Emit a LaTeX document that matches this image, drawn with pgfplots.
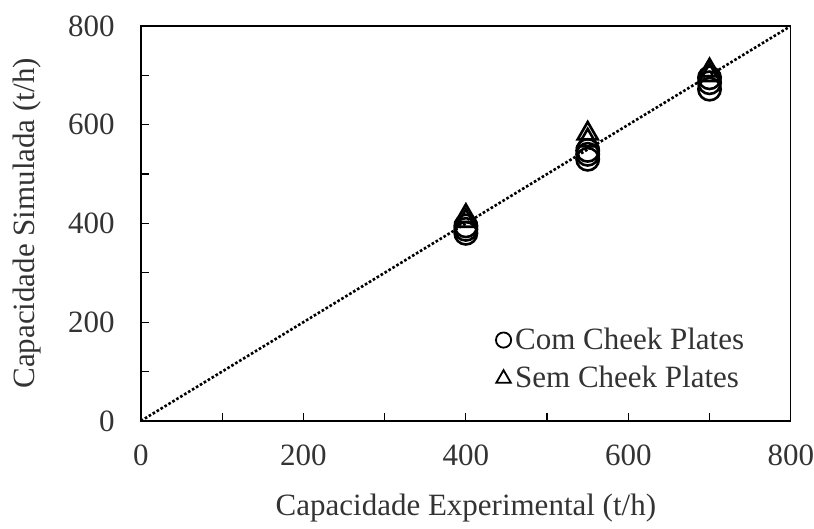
\documentclass[border=0pt]{standalone}
\usepackage{pgfplots}
\pgfplotsset{compat=1.18}
\usepackage{fontspec}
\setmainfont{Liberation Serif}
\begin{document}
\begin{tikzpicture}
\begin{axis}[
  scale only axis,
  width=325pt, height=197.5pt,
  xmin=0, xmax=800, ymin=0, ymax=800,
  xtick={0,200,...,800}, ytick={0,200,...,800},
  minor xtick={100,300,500,700}, minor ytick={100,300,500,700},
  tick align=inside,
  xtick pos=bottom, ytick pos=left,
  major tick length=4pt, minor tick length=4pt,
  tick style={black, line width=0.6pt},
  axis line style={line width=0.7pt},
  /pgf/number format/assume math mode=true,
  ticklabel style={font=\fontsize{15.5}{18}\selectfont, text=black!80, inner sep=0pt},
  yticklabel style={anchor=east, xshift=-13pt},
  xticklabel style={anchor=north, yshift=-12pt},
  xlabel={Capacidade Experimental (t/h)},
  ylabel={Capacidade Simulada (t/h)},
  every axis x label/.style={at={(axis description cs:0.5,0)}, yshift=-43.5pt, anchor=center,
    font=\fontsize{15.5}{18}\selectfont, text=black!80},
  every axis y label/.style={at={(axis description cs:0,0.5)}, xshift=-57pt, rotate=90, anchor=center,
    font=\fontsize{15.5}{18}\selectfont, text=black!80},
  legend style={draw=none, fill=none, at={(0.935,0.065)}, anchor=south east,
    font=\fontsize{15.5}{18}\selectfont, text=black!80, row sep=3pt,
    inner xsep=0pt, inner ysep=0pt, nodes={inner xsep=2pt}},
  legend cell align=left,
  legend image code/.code={\draw[#1] (0pt,0pt) plot coordinates {(0pt,0pt)};},
]
\addplot[only marks, mark=o, mark size=5.6pt, line width=1.3pt, black,
  legend image post style={mark size=3.8pt, line width=0.9pt}]
  coordinates {(400,380) (400,388) (400,395) (550,530) (550,540) (550,548) (700,672) (700,685) (700,695)};
\addlegendentry{Com Cheek Plates}
\addplot[only marks, mark=triangle, mark size=5.8pt, line width=1.3pt, black,
  legend image post style={mark size=4.2pt, line width=0.9pt}]
  coordinates {(400,405) (400,415) (550,568) (550,582) (700,700) (700,710)};
\addlegendentry{Sem Cheek Plates}
\addplot[black, densely dotted, line width=1.3pt, forget plot] coordinates {(0,0) (800,800)};
\end{axis}
\path (current axis.north) ++(0,13pt);
\path (current axis.west) ++(-70.5pt,0);
\end{tikzpicture}
\end{document}
